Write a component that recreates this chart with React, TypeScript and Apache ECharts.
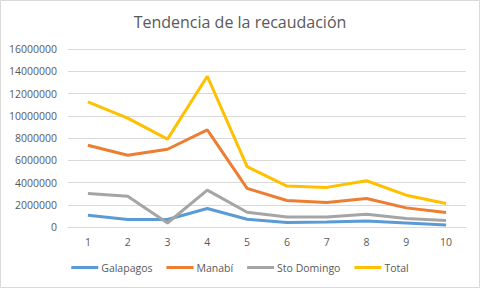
import React, { useEffect, useRef } from "react";
import * as echarts from "echarts";

const categories = ["1", "2", "3", "4", "5", "6", "7", "8", "9", "10"];
const galapagos = [1060000, 670000, 670000, 1660000, 700000, 400000, 450000, 540000, 360000, 180000];
const manabi = [7350000, 6450000, 6990000, 8730000, 3470000, 2380000, 2200000, 2560000, 1720000, 1300000];
const stoDomingo = [3020000, 2770000, 360000, 3310000, 1330000, 900000, 900000, 1150000, 760000, 580000];
const total = [11240000, 9790000, 7900000, 13550000, 5420000, 3680000, 3560000, 4160000, 2860000, 2110000];

const seriesNames = ["Galapagos", "Manabí", "Sto Domingo", "Total"];
const seriesData = [galapagos, manabi, stoDomingo, total];
const colors = ["#5B9BD5", "#ED7D31", "#A5A5A5", "#FFC000"];

const FONT = "'Open Sans', 'Liberation Sans', sans-serif";

export default function App() {
  const ref = useRef<HTMLDivElement>(null);
  useEffect(() => {
    if (!ref.current) return;
    const chart = echarts.init(ref.current, undefined, { renderer: "svg" });
    chart.setOption({
      animation: false,
      backgroundColor: "#ffffff",
      title: {
        text: "Tendencia de la recaudación",
        left: "center",
        top: 9,
        textStyle: { fontFamily: FONT, fontSize: 16, fontWeight: "normal", color: "#595959" },
      },
      graphic: [
        {
          type: "rect",
          shape: { x: 0.5, y: 0.5, width: 479, height: 287 },
          style: { fill: "none", stroke: "#D9D9D9", lineWidth: 1 },
          silent: true,
        },
      ],
      legend: {
        bottom: 10,
        left: "center",
        icon: "rect",
        itemWidth: 27,
        itemHeight: 3,
        itemGap: 14,
        textStyle: { fontFamily: FONT, fontSize: 10.5, color: "#595959", padding: [0, 0, 0, -2] },
        data: seriesNames,
      },
      grid: { left: 68, right: 14, top: 49, bottom: 61, containLabel: false },
      xAxis: {
        type: "category",
        data: categories,
        boundaryGap: true,
        axisLine: { show: true, lineStyle: { color: "#D9D9D9", width: 1 } },
        axisTick: { show: false },
        axisLabel: { fontFamily: FONT, fontSize: 10.5, color: "#595959", margin: 9 },
      },
      yAxis: {
        type: "value",
        min: 0,
        max: 16000000,
        interval: 2000000,
        axisLine: { show: false },
        axisTick: { show: false },
        axisLabel: {
          fontFamily: FONT,
          fontSize: 10.5,
          color: "#595959",
          margin: 11,
          formatter: (v: number) => String(v),
        },
        splitLine: { lineStyle: { color: "#D9D9D9", width: 1 } },
      },
      series: seriesNames.map((name, i) => ({
        name,
        type: "line",
        data: seriesData[i],
        symbol: "none",
        color: colors[i],
        lineStyle: { width: 3, color: colors[i] },
      })),
    });
    return () => chart.dispose();
  }, []);
  return <div ref={ref} style={{ width: 480, height: 288, position: "absolute", left: 0, top: 0 }} />;
}
